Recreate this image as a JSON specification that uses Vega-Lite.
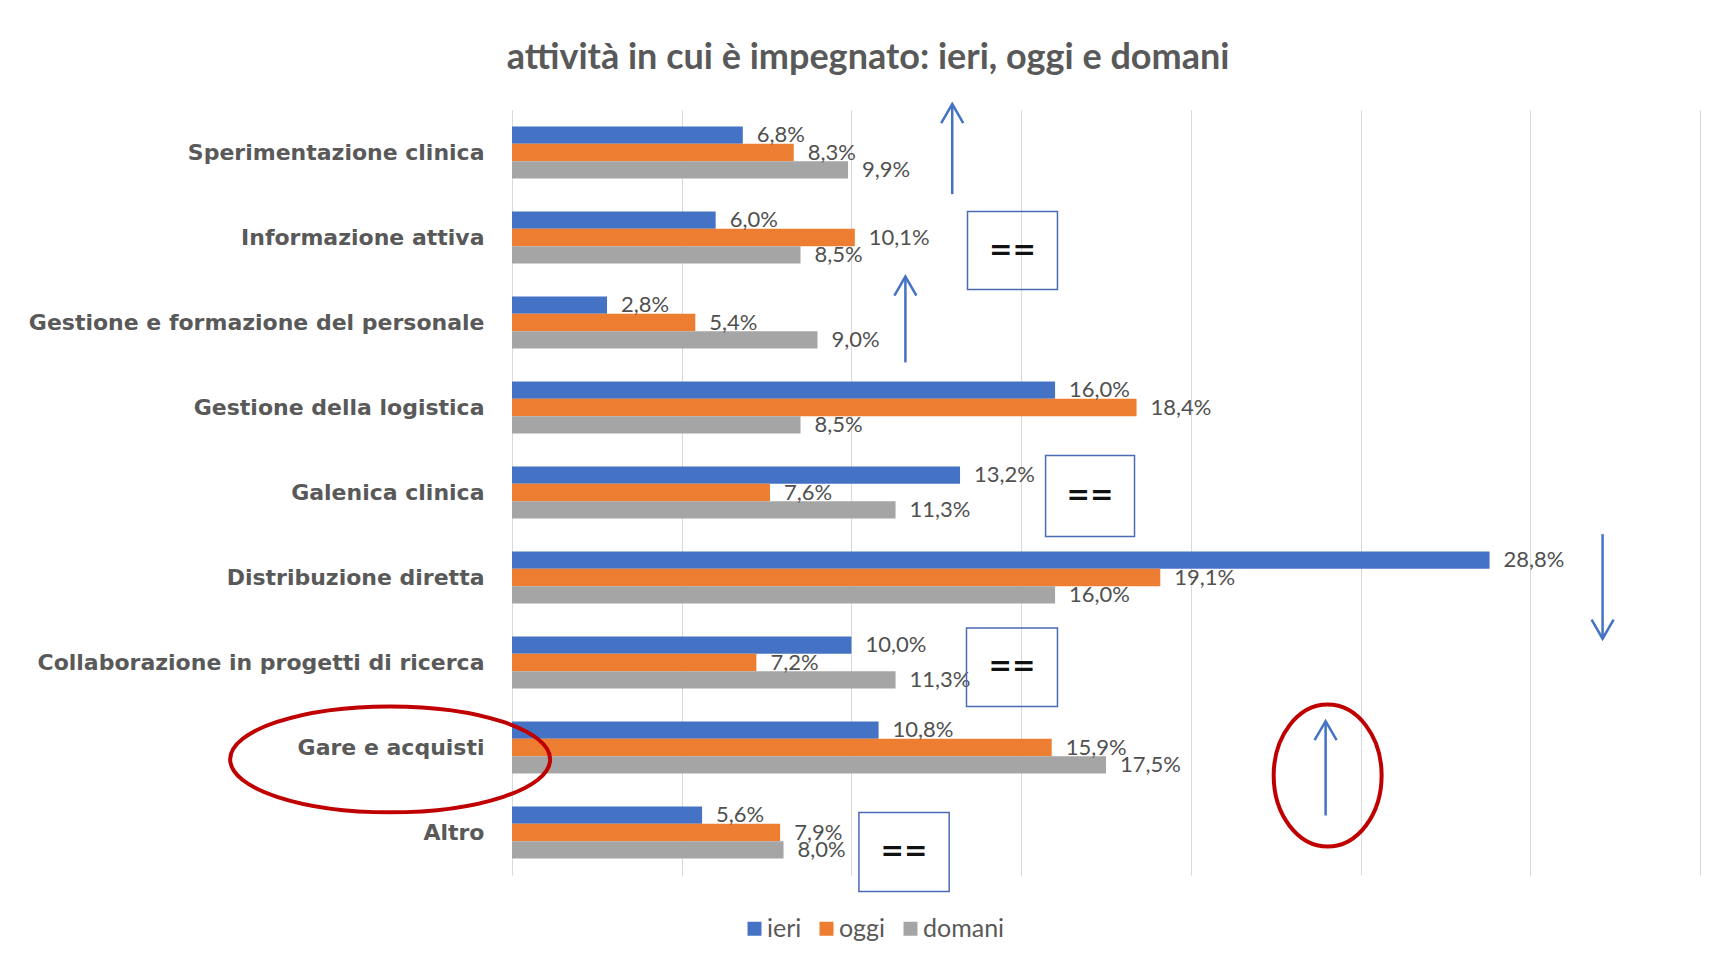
{
  "$schema": "https://vega.github.io/schema/vega-lite/v6.json",
  "width": 1188,
  "height": 765,
  "autosize": {"type": "none"},
  "padding": {"left": 512, "top": 110, "right": 14, "bottom": 87},
  "background": "white",
  "title": {
    "text": "attività in cui è impegnato: ieri, oggi e domani",
    "anchor": "middle",
    "frame": "group",
    "dx": -238,
    "offset": 22,
    "font": "Lato",
    "fontSize": 36,
    "fontWeight": "bold",
    "color": "#595959"
  },
  "config": {
    "locale": {"number": {"decimal": ",", "thousands": ".", "grouping": [3], "currency": ["", " €"]}},
    "view": {"stroke": null}
  },
  "datasets": {
    "bars": [
      {"attivita": "Sperimentazione clinica", "periodo": "ieri", "valore": 0.068},
      {"attivita": "Sperimentazione clinica", "periodo": "oggi", "valore": 0.083},
      {"attivita": "Sperimentazione clinica", "periodo": "domani", "valore": 0.099},
      {"attivita": "Informazione attiva", "periodo": "ieri", "valore": 0.060},
      {"attivita": "Informazione attiva", "periodo": "oggi", "valore": 0.101},
      {"attivita": "Informazione attiva", "periodo": "domani", "valore": 0.085},
      {"attivita": "Gestione e formazione del personale", "periodo": "ieri", "valore": 0.028},
      {"attivita": "Gestione e formazione del personale", "periodo": "oggi", "valore": 0.054},
      {"attivita": "Gestione e formazione del personale", "periodo": "domani", "valore": 0.090},
      {"attivita": "Gestione della logistica", "periodo": "ieri", "valore": 0.160},
      {"attivita": "Gestione della logistica", "periodo": "oggi", "valore": 0.184},
      {"attivita": "Gestione della logistica", "periodo": "domani", "valore": 0.085},
      {"attivita": "Galenica clinica", "periodo": "ieri", "valore": 0.132},
      {"attivita": "Galenica clinica", "periodo": "oggi", "valore": 0.076},
      {"attivita": "Galenica clinica", "periodo": "domani", "valore": 0.113},
      {"attivita": "Distribuzione diretta", "periodo": "ieri", "valore": 0.288},
      {"attivita": "Distribuzione diretta", "periodo": "oggi", "valore": 0.191},
      {"attivita": "Distribuzione diretta", "periodo": "domani", "valore": 0.160},
      {"attivita": "Collaborazione in progetti di ricerca", "periodo": "ieri", "valore": 0.100},
      {"attivita": "Collaborazione in progetti di ricerca", "periodo": "oggi", "valore": 0.072},
      {"attivita": "Collaborazione in progetti di ricerca", "periodo": "domani", "valore": 0.113},
      {"attivita": "Gare e acquisti", "periodo": "ieri", "valore": 0.108},
      {"attivita": "Gare e acquisti", "periodo": "oggi", "valore": 0.159},
      {"attivita": "Gare e acquisti", "periodo": "domani", "valore": 0.175},
      {"attivita": "Altro", "periodo": "ieri", "valore": 0.056},
      {"attivita": "Altro", "periodo": "oggi", "valore": 0.079},
      {"attivita": "Altro", "periodo": "domani", "valore": 0.080}
    ],
    "arrows": [
      {"x": 0.1297, "top": -0.07, "bottom": 0.99},
      {"x": 0.1159, "top": 1.96, "bottom": 2.97},
      {"x": 0.3213, "top": 4.99, "bottom": 6.22},
      {"x": 0.2397, "top": 7.19, "bottom": 8.3}
    ],
    "heads": [
      {"x": 0.1297, "pos": -0.07, "dir": "up"},
      {"x": 0.1159, "pos": 1.96, "dir": "up"},
      {"x": 0.3213, "pos": 6.22, "dir": "down"},
      {"x": 0.2397, "pos": 7.19, "dir": "up"}
    ],
    "boxes": [
      {"x1": 0.1342, "x2": 0.1607, "y1": 1.194, "y2": 2.112, "cx": 0.14745, "cy": 1.653},
      {"x1": 0.1572, "x2": 0.1834, "y1": 4.065, "y2": 5.018, "cx": 0.1703, "cy": 4.54},
      {"x1": 0.1339, "x2": 0.1607, "y1": 6.094, "y2": 7.018, "cx": 0.1473, "cy": 6.556},
      {"x1": 0.1022, "x2": 0.1288, "y1": 8.265, "y2": 9.194, "cx": 0.1155, "cy": 8.73}
    ]
  },
  "layer": [
    {
      "data": {"name": "bars"},
      "encoding": {
        "x": {
          "field": "valore",
          "type": "quantitative",
          "scale": {"domain": [0, 0.35], "nice": false},
          "axis": {"values": [0, 0.05, 0.1, 0.15, 0.2, 0.25, 0.3, 0.35], "labels": false, "ticks": false, "domain": false, "title": null, "grid": true, "gridColor": "#d9d9d9", "gridWidth": 1}
        },
        "y": {
          "field": "attivita",
          "type": "nominal",
          "sort": ["Sperimentazione clinica", "Informazione attiva", "Gestione e formazione del personale", "Gestione della logistica", "Galenica clinica", "Distribuzione diretta", "Collaborazione in progetti di ricerca", "Gare e acquisti", "Altro"],
          "scale": {"paddingInner": 0.388, "paddingOuter": 0.194},
          "axis": {
            "title": null,
            "ticks": false,
            "tickSize": 0,
            "domain": false,
            "grid": false,
            "labelPadding": 28,
            "labelFont": "DejaVu Sans",
            "labelFontWeight": "bold",
            "labelFontSize": 22,
            "labelColor": "#595959",
            "labelLimit": 0
          }
        },
        "yOffset": {
          "field": "periodo",
          "type": "nominal",
          "sort": ["ieri", "oggi", "domani"],
          "scale": {"paddingInner": 0, "paddingOuter": 0}
        }
      },
      "layer": [
        {
          "mark": {"type": "bar"},
          "encoding": {
            "color": {
              "field": "periodo",
              "type": "nominal",
              "scale": {"domain": ["ieri", "oggi", "domani"], "range": ["#4472C4", "#ED7D31", "#A5A5A5"]},
              "legend": {
                "orient": "none",
                "legendX": 230,
                "legendY": 806,
                "direction": "horizontal",
                "title": null,
                "symbolType": "square",
                "symbolSize": 196,
                "symbolStrokeWidth": 0,
                "labelFont": "Lato",
                "labelFontSize": 25,
                "labelColor": "#595959",
                "labelOffset": 0,
                "columnPadding": 12,
                "padding": 0
              }
            }
          }
        },
        {
          "mark": {"type": "text", "align": "left", "baseline": "middle", "dx": 14, "font": "Lato", "fontSize": 22, "color": "#505050"},
          "encoding": {
            "text": {"field": "valore", "type": "quantitative", "format": ".1%"}
          }
        }
      ]
    },
    {
      "data": {"name": "boxes"},
      "mark": {"type": "rect", "fill": "white", "fillOpacity": 0, "stroke": "#4a6ab3", "strokeWidth": 1.5},
      "encoding": {
        "x": {"field": "x1", "type": "quantitative", "scale": {"domain": [0, 0.35], "nice": false}, "axis": {"values": [0, 0.05, 0.1, 0.15, 0.2, 0.25, 0.3, 0.35], "labels": false, "ticks": false, "domain": false, "title": null, "grid": true, "gridColor": "#d9d9d9", "gridWidth": 1}},
        "x2": {"field": "x2"},
        "y": {"field": "y1", "type": "quantitative", "scale": {"domain": [0, 9], "reverse": true, "nice": false, "zero": false}, "axis": null},
        "y2": {"field": "y2"}
      }
    },
    {
      "data": {"name": "boxes"},
      "mark": {"type": "text", "text": "==", "align": "center", "baseline": "middle", "font": "DejaVu Sans", "fontWeight": "bold", "fontSize": 28, "color": "#111111"},
      "encoding": {
        "x": {"field": "cx", "type": "quantitative", "scale": {"domain": [0, 0.35], "nice": false}, "axis": {"values": [0, 0.05, 0.1, 0.15, 0.2, 0.25, 0.3, 0.35], "labels": false, "ticks": false, "domain": false, "title": null, "grid": true, "gridColor": "#d9d9d9", "gridWidth": 1}},
        "y": {"field": "cy", "type": "quantitative", "scale": {"domain": [0, 9], "reverse": true, "nice": false, "zero": false}, "axis": null}
      }
    },
    {
      "data": {"name": "arrows"},
      "mark": {"type": "rule", "color": "#4472C4", "strokeWidth": 2.5},
      "encoding": {
        "x": {"field": "x", "type": "quantitative", "scale": {"domain": [0, 0.35], "nice": false}, "axis": {"values": [0, 0.05, 0.1, 0.15, 0.2, 0.25, 0.3, 0.35], "labels": false, "ticks": false, "domain": false, "title": null, "grid": true, "gridColor": "#d9d9d9", "gridWidth": 1}},
        "y": {"field": "top", "type": "quantitative", "scale": {"domain": [0, 9], "reverse": true, "nice": false, "zero": false}, "axis": null},
        "y2": {"field": "bottom"}
      }
    },
    {
      "data": {"name": "heads"},
      "mark": {"type": "point", "filled": false, "stroke": "#4472C4", "strokeWidth": 2.5, "opacity": 1, "size": 1444},
      "encoding": {
        "x": {"field": "x", "type": "quantitative", "scale": {"domain": [0, 0.35], "nice": false}, "axis": {"values": [0, 0.05, 0.1, 0.15, 0.2, 0.25, 0.3, 0.35], "labels": false, "ticks": false, "domain": false, "title": null, "grid": true, "gridColor": "#d9d9d9", "gridWidth": 1}},
        "y": {"field": "pos", "type": "quantitative", "scale": {"domain": [0, 9], "reverse": true, "nice": false, "zero": false}, "axis": null},
        "shape": {
          "field": "dir",
          "type": "nominal",
          "scale": {"domain": ["up", "down"], "range": ["M -0.58 1 L 0 0 L 0.58 1", "M -0.58 -1 L 0 0 L 0.58 -1"]},
          "legend": null
        }
      }
    },
    {
      "data": {"values": [{"x": -0.0359, "pos": 7.64}]},
      "mark": {"type": "point", "shape": "M -1 0 A 1 0.331 0 1 0 1 0 A 1 0.331 0 1 0 -1 0 Z", "size": 102400, "filled": false, "stroke": "#C00000", "strokeWidth": 4, "opacity": 1},
      "encoding": {
        "x": {"field": "x", "type": "quantitative", "scale": {"domain": [0, 0.35], "nice": false}, "axis": {"values": [0, 0.05, 0.1, 0.15, 0.2, 0.25, 0.3, 0.35], "labels": false, "ticks": false, "domain": false, "title": null, "grid": true, "gridColor": "#d9d9d9", "gridWidth": 1}},
        "y": {"field": "pos", "type": "quantitative", "scale": {"domain": [0, 9], "reverse": true, "nice": false, "zero": false}, "axis": null}
      }
    },
    {
      "data": {"values": [{"x": 0.2403, "pos": 7.83}]},
      "mark": {"type": "point", "shape": "M -0.76 0 A 0.76 1 0 1 0 0.76 0 A 0.76 1 0 1 0 -0.76 0 Z", "size": 20164, "filled": false, "stroke": "#C00000", "strokeWidth": 4, "opacity": 1},
      "encoding": {
        "x": {"field": "x", "type": "quantitative", "scale": {"domain": [0, 0.35], "nice": false}, "axis": {"values": [0, 0.05, 0.1, 0.15, 0.2, 0.25, 0.3, 0.35], "labels": false, "ticks": false, "domain": false, "title": null, "grid": true, "gridColor": "#d9d9d9", "gridWidth": 1}},
        "y": {"field": "pos", "type": "quantitative", "scale": {"domain": [0, 9], "reverse": true, "nice": false, "zero": false}, "axis": null}
      }
    }
  ],
  "resolve": {"scale": {"y": "independent"}}
}
